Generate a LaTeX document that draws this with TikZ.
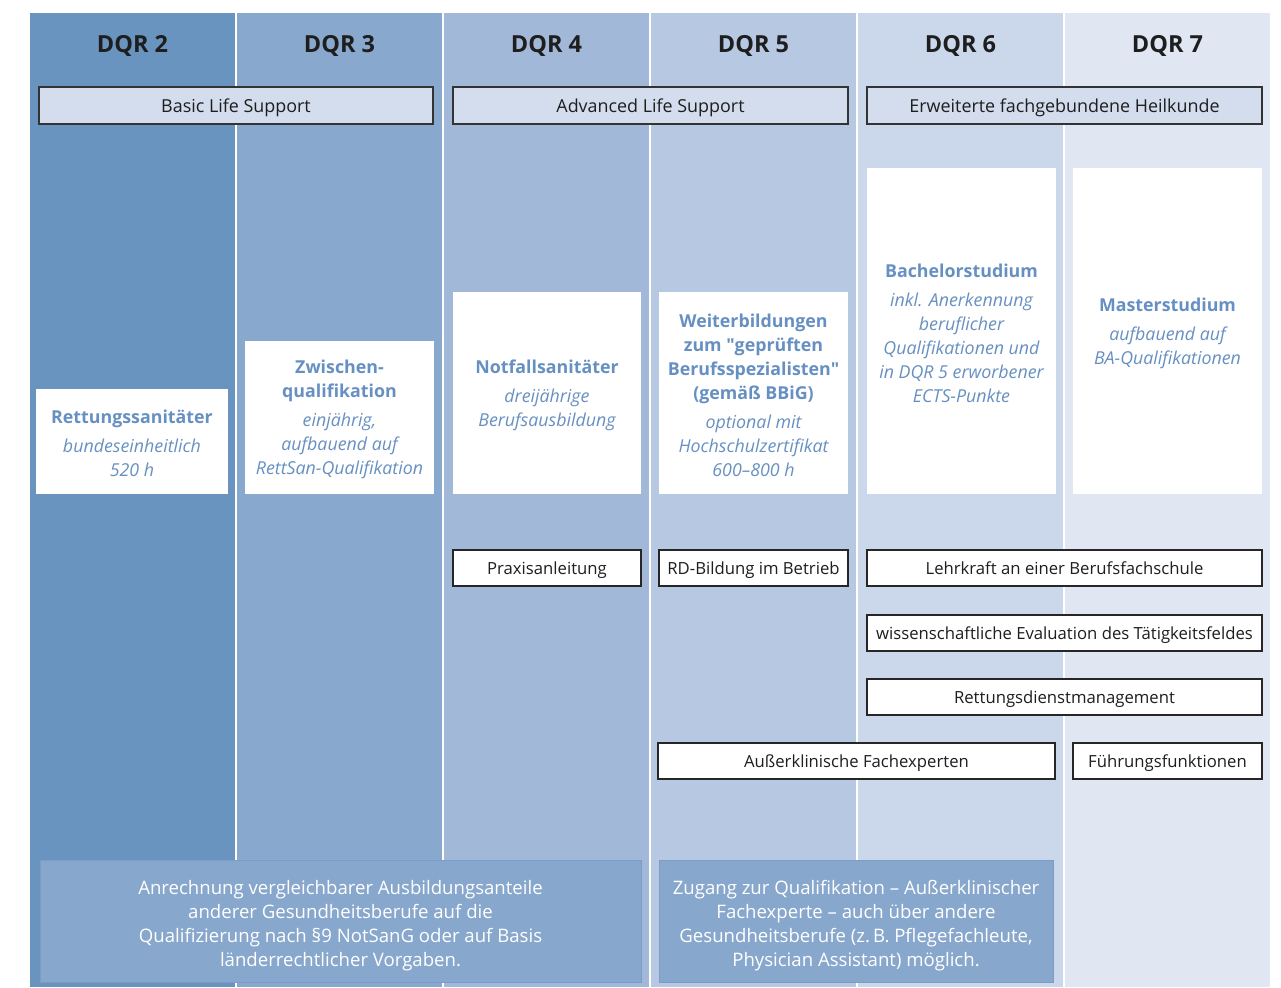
\documentclass[tikz,border=0pt]{standalone}
\usepackage{fontspec}
\setmainfont{Open Sans}
\usepackage{tikz}

\definecolor{dqrA}{HTML}{6994C0}
\definecolor{dqrB}{HTML}{88A8CD}
\definecolor{dqrC}{HTML}{A2B8D8}
\definecolor{dqrD}{HTML}{B6C8E2}
\definecolor{dqrE}{HTML}{CBD7EA}
\definecolor{dqrF}{HTML}{E0E7F3}
\definecolor{bandfill}{HTML}{D3DDEE}
\definecolor{qualtext}{HTML}{6790C2}
\definecolor{notefill}{HTML}{88A7CC}
\definecolor{noteline}{HTML}{7A9CC6}
\definecolor{inktext}{HTML}{1E1E1E}

\tikzset{
  dqrhead/.style={font=\fontsize{23.5}{28}\selectfont\bfseries, text=inktext,
    inner sep=0, anchor=base},
  band/.style={draw=black!80, line width=1.3pt, fill=bandfill, inner sep=0,
    minimum height=37pt, text height=13.5pt, text depth=0pt,
    font=\fontsize{17.9}{24}\selectfont, text=inktext},
  qualbox/.style={fill=white, inner sep=0, align=center, text=qualtext,
    font=\fontsize{17.8}{24}\selectfont},
  rolebox/.style={draw=black!85, line width=1.3pt, fill=white, inner sep=0,
    minimum height=36pt, text height=13pt, text depth=0pt,
    font=\fontsize{16.7}{24}\selectfont, text=inktext},
  notebox/.style={draw=noteline, line width=1pt, fill=notefill, inner sep=0,
    align=center, text=white, font=\fontsize{18.6}{24}\selectfont},
}
\newcommand{\qtitle}[1]{\textbf{#1}}
\newcommand{\notestrut}{\rule{0pt}{24pt}}
\newcommand{\qualstrut}{\rule{0pt}{18pt}}

\begin{document}
\begin{tikzpicture}[x=1pt,y=-1pt]
  %%%%% START %%%%%
  \useasboundingbox (0,0) rectangle (1281,987);

  % columns
  \foreach \i/\c in {0/dqrA,1/dqrB,2/dqrC,3/dqrD,4/dqrE,5/dqrF}
    \fill[\c] ({30+207*\i},13) rectangle ++(205,974);

  % headers
  \node[dqrhead] (h2) at (132.5,53) {DQR 2};
  \node[dqrhead] (h3) at (339.5,53) {DQR 3};
  \node[dqrhead] (h4) at (546.5,53) {DQR 4};
  \node[dqrhead] (h5) at (753.5,53) {DQR 5};
  \node[dqrhead] (h6) at (960.5,53) {DQR 6};
  \node[dqrhead] (h7) at (1167.5,53) {DQR 7};

  \node[band, minimum width=394pt] (bls) at (236,105.5) {Basic Life Support};
  \node[band, minimum width=395pt] (als) at (650.5,105.5) {Advanced Life Support};
  \node[band, minimum width=395pt] (efh) at (1064.5,105.5) {Erweiterte fachgebundene Heilkunde};

  % qualifications
  \node[qualbox, minimum width=192pt, minimum height=105pt] (rs) at (132,441.5)
    {\qualstrut\qtitle{Rettungssanitäter}\\[5pt]\itshape bundeseinheitlich\\\itshape 520 h};
  \node[qualbox, minimum width=189pt, minimum height=153pt] (zq) at (339.5,417.5)
    {\qualstrut\qtitle{Zwischen-}\\\qtitle{qualifikation}\\[5pt]\itshape einjährig,\\\itshape aufbauend auf\\\itshape RettSan-Qualifikation};
  \node[qualbox, minimum width=188pt, minimum height=202pt] (ns) at (547,393)
    {\qualstrut\qtitle{Notfallsanitäter}\\[5pt]\itshape dreijährige\\\itshape Berufsausbildung};
  \node[qualbox, minimum width=189pt, minimum height=202pt] (wb) at (753.5,393)
    {\qualstrut\qtitle{Weiterbildungen}\\\qtitle{zum \textquotedbl geprüften}\\\qtitle{Berufsspezialisten\textquotedbl}\\\qtitle{(gemäß BBiG)}\\[5pt]\itshape optional mit\\\itshape Hochschulzertifikat\\\itshape 600–800 h};
  \node[qualbox, minimum width=189pt, minimum height=326pt] (ba) at (961.5,331)
    {\qualstrut\qtitle{Bachelorstudium}\\[5pt]\itshape inkl. Anerkennung\\\itshape beruflicher\\\itshape Qualifikationen und\\\itshape in DQR 5 erworbener\\\itshape ECTS-Punkte};
  \node[qualbox, minimum width=189pt, minimum height=326pt] (ma) at (1167.5,331)
    {\qualstrut\qtitle{Masterstudium}\\[5pt]\itshape aufbauend auf\\\itshape BA-Qualifikationen};

  % fields of activity
  \node[rolebox, minimum width=188pt] (pa) at (547,568) {Praxisanleitung};
  \node[rolebox, minimum width=189pt] (rd) at (753.5,568) {RD-Bildung im Betrieb};
  \node[rolebox, minimum width=395pt] (lk) at (1064.5,568) {Lehrkraft an einer Berufsfachschule};
  \node[rolebox, minimum width=395pt] (we) at (1064.5,633) {wissenschaftliche Evaluation des Tätigkeitsfeldes};
  \node[rolebox, minimum width=395pt] (rm) at (1064.5,697) {Rettungsdienstmanagement};
  \node[rolebox, minimum width=397pt] (af) at (856.5,761) {Außerklinische Fachexperten};
  \node[rolebox, minimum width=189pt] (ff) at (1167.5,761) {Führungsfunktionen};

  % notes
  \node[notebox, minimum width=601pt, minimum height=122pt] (an) at (340.5,921)
    {\notestrut Anrechnung vergleichbarer Ausbildungsanteile\\anderer Gesundheitsberufe auf die\\Qualifizierung nach §9 NotSanG oder auf Basis\\länderrechtlicher Vorgaben.};
  \node[notebox, minimum width=394pt, minimum height=122pt] (zg) at (856,921)
    {\notestrut Zugang zur Qualifikation – Außerklinischer\\Fachexperte – auch über andere\\Gesundheitsberufe (z.\,B. Pflegefachleute,\\Physician Assistant) möglich.};
  %%%%% END %%%%%
\end{tikzpicture}
\end{document}
